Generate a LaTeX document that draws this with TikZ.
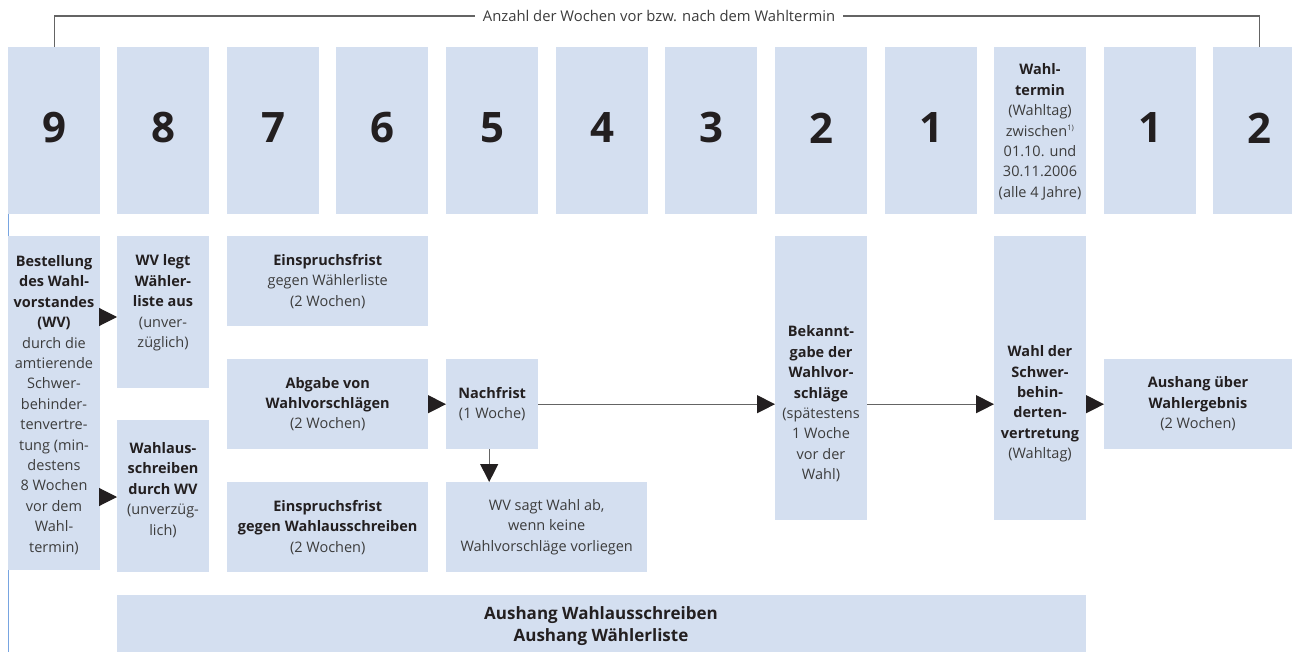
\documentclass[tikz,border=0pt]{standalone}
\usepackage{fontspec}
\setmainfont{Open Sans}
\usetikzlibrary{arrows.meta}
\definecolor{boxblue}{RGB}{212,223,240}
\definecolor{ink}{RGB}{35,31,32}
\definecolor{reg}{RGB}{60,60,60}
\definecolor{linegray}{RGB}{100,100,100}
\definecolor{edgeblue}{RGB}{120,165,225}
\begin{document}
\begin{tikzpicture}[x=1pt,y=-1pt,
  box/.style={fill=boxblue, draw=none, inner sep=0pt, anchor=north west},
  txt/.style={inner sep=0pt, align=center, text=reg, font=\fontsize{14.5}{20.4}\selectfont},
  num/.style={inner sep=0pt, text=ink, font=\fontsize{42}{42}\selectfont\bfseries},
  arr/.style={draw=linegray, line width=1.1pt, -{Triangle[length=18pt,width=18pt,color=ink]}},
  bracket/.style={draw=linegray, line width=1.1pt},
  wk/.style={box, minimum width=92pt, minimum height=167pt}
]
\useasboundingbox (0,0) rectangle (1292,652);
\clip (0,0) rectangle (1292,652);
\newcommand{\B}[1]{{\color{ink}\bfseries #1}}

% week boxes
\node[wk] (w9) at (8,47) {};
\node[wk] (w8) at (117,47) {};
\node[wk] (w7) at (227,47) {};
\node[wk] (w6) at (336,47) {};
\node[wk] (w5) at (446,47) {};
\node[wk] (w4) at (556,47) {};
\node[wk] (w3) at (665,47) {};
\node[wk] (w2) at (775,47) {};
\node[wk] (w1) at (885,47) {};
\node[wk] (wt) at (994,47) {};
\node[wk] (a1) at (1104,47) {};
\node[wk] (a2) at (1213,47) {};

\node[num] (n9) at (54,128) {9};
\node[num] (n8) at (163,128) {8};
\node[num] (n7) at (273,128) {7};
\node[num] (n6) at (382,128) {6};
\node[num] (n5) at (492,128) {5};
\node[num] (n4) at (602,128) {4};
\node[num] (n3) at (711,128) {3};
\node[num] (n2) at (821,128) {2};
\node[num] (n1) at (931,128) {1};
\node[txt] (tt) at (1040,132) {\B{Wahl-}\\\B{termin}\\(Wahltag)\\zwischen\textsuperscript{\fontsize{7.5}{7.5}\selectfont 1)}\\01.10. und\\30.11.2006\\(alle 4 Jahre)};
\node[num] (m1) at (1150,128) {1};
\node[num] (m2) at (1259,128) {2};

% bracket
\coordinate (top) at (0,16);
\draw[bracket] (w9.north) -- (w9.north |- top) -- (a2.north |- top) -- (a2.north);
\node[txt, fill=white, inner xsep=8pt, inner ysep=2pt, font=\fontsize{14.8}{18}\selectfont] (lab) at (659,16) {Anzahl der Wochen vor bzw. nach dem Wahltermin};

% left blue edge line
\coordinate (e1) at (8,214);
\coordinate (e2) at (8,652);
\draw[edgeblue, line width=1pt] (e1) -- (e2);

% process boxes
\node[box, minimum width=92pt, minimum height=334pt] (best) at (8,236) {};
\node[box, minimum width=92pt, minimum height=152pt] (wvl) at (117,236) {};
\node[box, minimum width=92pt, minimum height=152pt] (waus) at (117,420) {};
\node[box, minimum width=201pt, minimum height=90pt] (ein1) at (227,236) {};
\node[box, minimum width=201pt, minimum height=90pt] (abg) at (227,359) {};
\node[box, minimum width=201pt, minimum height=90pt] (ein2) at (227,482) {};
\node[box, minimum width=92pt, minimum height=90pt] (nach) at (446,359) {};
\node[box, minimum width=201pt, minimum height=90pt] (sagt) at (446,482) {};
\node[box, minimum width=92pt, minimum height=284pt] (bek) at (775,236) {};
\node[box, minimum width=92pt, minimum height=284pt] (wahl) at (994,236) {};
\node[box, minimum width=200pt, minimum height=90pt] (aus) at (1104,359) {};
\node[box, minimum width=969pt, minimum height=60pt] (bot) at (117,595) {};

% texts
\node[txt] (tbest) at (54,405) {\B{Bestellung}\\\B{des Wahl-}\\\B{vorstandes}\\\B{(WV)}\\durch die\\amtierende\\Schwer-\\behinder-\\tenvertre-\\tung (min-\\destens\\8 Wochen\\vor dem\\Wahl-\\termin)};
\node[txt] (twvl) at (163,303) {\B{WV legt}\\\B{Wähler-}\\\B{liste aus}\\(unver-\\züglich)};
\node[txt] (twaus) at (163,490) {\B{Wahlaus-}\\\B{schreiben}\\\B{durch WV}\\(unverzüg-\\lich)};
\node[txt] (tein1) at (ein1.center) {\B{Einspruchsfrist}\\gegen Wählerliste\\(2 Wochen)};
\node[txt] (tabg) at (abg.center) {\B{Abgabe von}\\\B{Wahlvorschlägen}\\(2 Wochen)};
\node[txt] (tein2) at (ein2.center) {\B{Einspruchsfrist}\\\B{gegen Wahlausschreiben}\\(2 Wochen)};
\node[txt] (tnach) at (nach.center) {\B{Nachfrist}\\(1 Woche)};
\node[txt] (tsagt) at (sagt.center) {WV sagt Wahl ab,\\wenn keine\\Wahlvorschläge vorliegen};
\node[txt] (tbek) at (821,404) {\B{Bekannt-}\\\B{gabe der}\\\B{Wahlvor-}\\\B{schläge}\\(spätestens\\1 Woche\\vor der\\Wahl)};
\node[txt] (twahl) at (1040,404) {\B{Wahl der}\\\B{Schwer-}\\\B{behin-}\\\B{derten-}\\\B{vertretung}\\(Wahltag)};
\node[txt] (taus) at (1198,404) {\B{Aushang über}\\\B{Wahlergebnis}\\(2 Wochen)};
\node[txt, font=\fontsize{17}{22}\selectfont] (tbot) at (601,626) {\B{Aushang Wahlausschreiben}\\\B{Aushang Wählerliste}};

% connectors
\coordinate (y1) at (0,317);
\coordinate (y2) at (0,497);
\draw[arr] (best.east |- y1) -- (wvl.west |- y1);
\draw[arr] (best.east |- y2) -- (waus.west |- y2);
\draw[arr] (abg.east) -- (nach.west);
\draw[arr] (nach.east) -- (bek.west |- nach.east);
\draw[arr] (bek.east |- nach.east) -- (wahl.west |- nach.east);
\draw[arr] (wahl.east |- nach.east) -- (aus.west);
\draw[arr] ([xshift=-3pt]nach.south) -- ([xshift=-3pt]nach.south |- sagt.north);
\end{tikzpicture}
\end{document}
